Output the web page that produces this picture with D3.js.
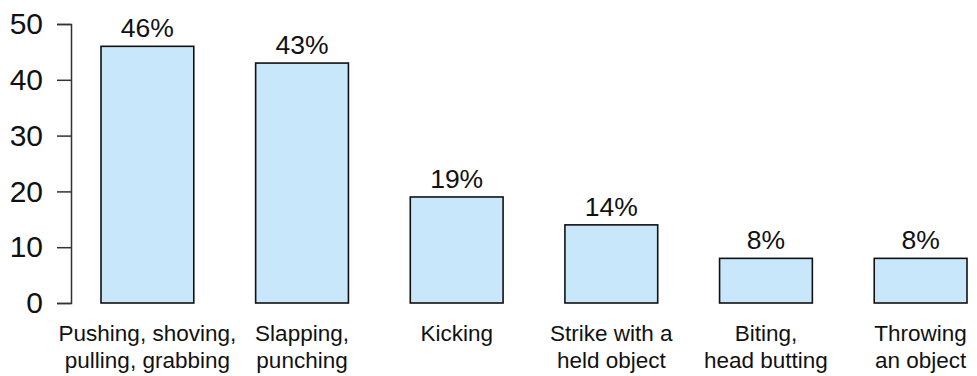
<!DOCTYPE html>
<html>
<head>
<meta charset="utf-8">
<script src="https://cdn.jsdelivr.net/npm/d3@7"></script>
<style>
  html, body { margin: 0; padding: 0; background: #fff; }
  text { font-family: "Liberation Sans", Arial, sans-serif; fill: #111; }
</style>
</head>
<body>
<div id="chart"></div>
<script>
const categories = [
  ['Pushing, shoving,', 'pulling, grabbing'],
  ['Slapping,', 'punching'],
  ['Kicking'],
  ['Strike with a', 'held object'],
  ['Biting,', 'head butting'],
  ['Throwing', 'an object']
];
const values = [46, 43, 19, 14, 8, 8];
const yTicks = [0, 10, 20, 30, 40, 50];

const W = 977, H = 376;
const svg = d3.select('#chart').append('svg').attr('width', W).attr('height', H);

const x = d3.scaleBand().domain(d3.range(values.length)).range([101, 967])
  .paddingInner(0.4).paddingOuter(0);
const y = d3.scaleLinear().domain([0, 50]).range([303, 24]);

// y axis
const yAxis = svg.append('g').attr('transform', 'translate(71,0)')
  .call(d3.axisLeft(y).tickValues(yTicks).tickSize(14).tickPadding(14));
yAxis.select('.domain').attr('stroke', '#333').attr('stroke-width', 1.5);
yAxis.selectAll('.tick line').attr('stroke', '#333').attr('stroke-width', 1.5);
yAxis.selectAll('.tick text').style('font-size', '30px').style('font-family', '"Liberation Sans", Arial, sans-serif').attr('fill', '#111');

// bars
svg.selectAll('.bar').data(values).join('rect').attr('class', 'bar')
  .attr('x', (d, i) => x(i)).attr('y', d => y(d))
  .attr('width', x.bandwidth()).attr('height', d => y(0) - y(d))
  .attr('fill', '#c8e7fb').attr('stroke', '#111').attr('stroke-width', 1.6);

// value labels
svg.selectAll('.val').data(values).join('text').attr('class', 'val')
  .attr('x', (d, i) => x(i) + x.bandwidth() / 2).attr('y', d => y(d) - 9)
  .attr('text-anchor', 'middle').style('font-size', '26.5px')
  .text(d => `${d}%`);

// category labels
const lab = svg.selectAll('.cat').data(categories).join('text').attr('class', 'cat')
  .attr('text-anchor', 'middle').style('font-size', '22.5px');
lab.each(function (lines, i) {
  const t = d3.select(this);
  lines.forEach((s, j) => {
    t.append('tspan').attr('x', x(i) + x.bandwidth() / 2).attr('y', 341 + j * 27).text(s);
  });
});
</script>
</body>
</html>
